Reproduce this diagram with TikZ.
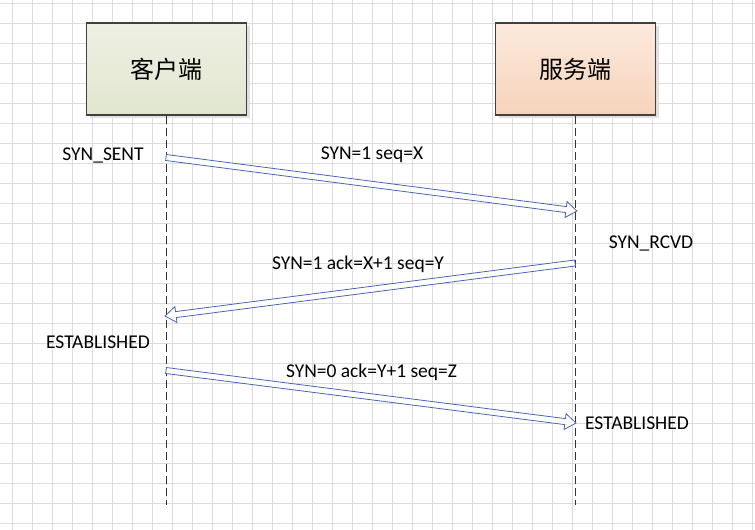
\documentclass[tikz,border=0pt]{standalone}
\usepackage{fontspec}
\setmainfont{Carlito}
\newfontfamily\cjk{Noto Sans CJK SC}
\usetikzlibrary{calc,shadows}
\definecolor{gridc}{HTML}{DCDCDC}
\definecolor{arrc}{HTML}{4A64B4}
\definecolor{ctop}{HTML}{EEF0E3}
\definecolor{cbot}{HTML}{E1E6CF}
\definecolor{stop}{HTML}{FCEADD}
\definecolor{sbot}{HTML}{F6D3BB}
\tikzset{
  actor/.style={draw=black!75, line width=1.2pt, minimum width=160pt, minimum height=92pt,
    inner sep=0pt, font=\cjk\fontsize{24}{28}\selectfont,
    drop shadow={shadow xshift=3pt, shadow yshift=-3pt, fill=black!12, opacity=1}},
  lifeline/.style={draw=black!80, line width=0.9pt, dash pattern=on 8pt off 4pt},
  blockarr/.style={draw=arrc, fill=white, line width=0.8pt, line join=miter},
  lbl/.style={font=\fontsize{19.5}{23}\selectfont, inner sep=0pt}
}
\newcommand\blockarrow[2]{%
  \path[blockarr] let \p1=(#1), \p2=(#2), \n1={atan2(\y2-\y1,\x2-\x1)},
    \n2={veclen(\x2-\x1,\y2-\y1)} in
    ([shift={(\p1)},rotate=\n1]0pt,-3pt) --
    ([shift={(\p1)},rotate=\n1]{\n2-11pt},-3pt) --
    ([shift={(\p1)},rotate=\n1]{\n2-11pt},-8pt) --
    ([shift={(\p1)},rotate=\n1]{\n2},0pt) --
    ([shift={(\p1)},rotate=\n1]{\n2-11pt},8pt) --
    ([shift={(\p1)},rotate=\n1]{\n2-11pt},3pt) --
    ([shift={(\p1)},rotate=\n1]0pt,3pt) -- cycle;}
\begin{document}
\begin{tikzpicture}[x=1pt,y=-1pt]
\useasboundingbox (0,0) rectangle (755,530);
\fill[white] (0,0) rectangle (755,530);
\foreach \i in {0,...,37} \draw[gridc, line width=1pt] ({12+20*\i},0) -- ({12+20*\i},530);
\foreach \j in {0,...,26} \draw[gridc, line width=1pt] (0,{3.5+20*\j}) -- (755,{3.5+20*\j});

\node[actor, top color=ctop, bottom color=cbot] (client) at (166.5,69) {客户端};
\node[actor, top color=stop, bottom color=sbot] (server) at (575.5,69) {服务端};

\coordinate (cend) at (166,505);
\coordinate (send) at (575,505);
\draw[lifeline] (client.south -| cend) -- (cend);
\draw[lifeline] (server.south -| send) -- (send);

\coordinate (a1s) at (166,157.5);
\coordinate (a1e) at (577,211);
\coordinate (a2s) at (575,263);
\coordinate (a2e) at (165,316);
\coordinate (a3s) at (166,370.5);
\coordinate (a3e) at (576,423);
\blockarrow{a1s}{a1e}
\blockarrow{a2s}{a2e}
\blockarrow{a3s}{a3e}

\node[lbl] (synsent) at (103,155) {SYN\_SENT};
\node[lbl] (l1) at (372,155) {SYN=1 seq=X};
\node[lbl] (synrcvd) at (651,243) {SYN\_RCVD};
\node[lbl] (l2) at (358,264) {SYN=1 ack=X+1 seq=Y};
\node[lbl] (est1) at (98,342) {ESTABLISHED};
\node[lbl] (l3) at (371.5,372) {SYN=0 ack=Y+1 seq=Z};
\node[lbl] (est2) at (637,423) {ESTABLISHED};
\end{tikzpicture}
\end{document}
